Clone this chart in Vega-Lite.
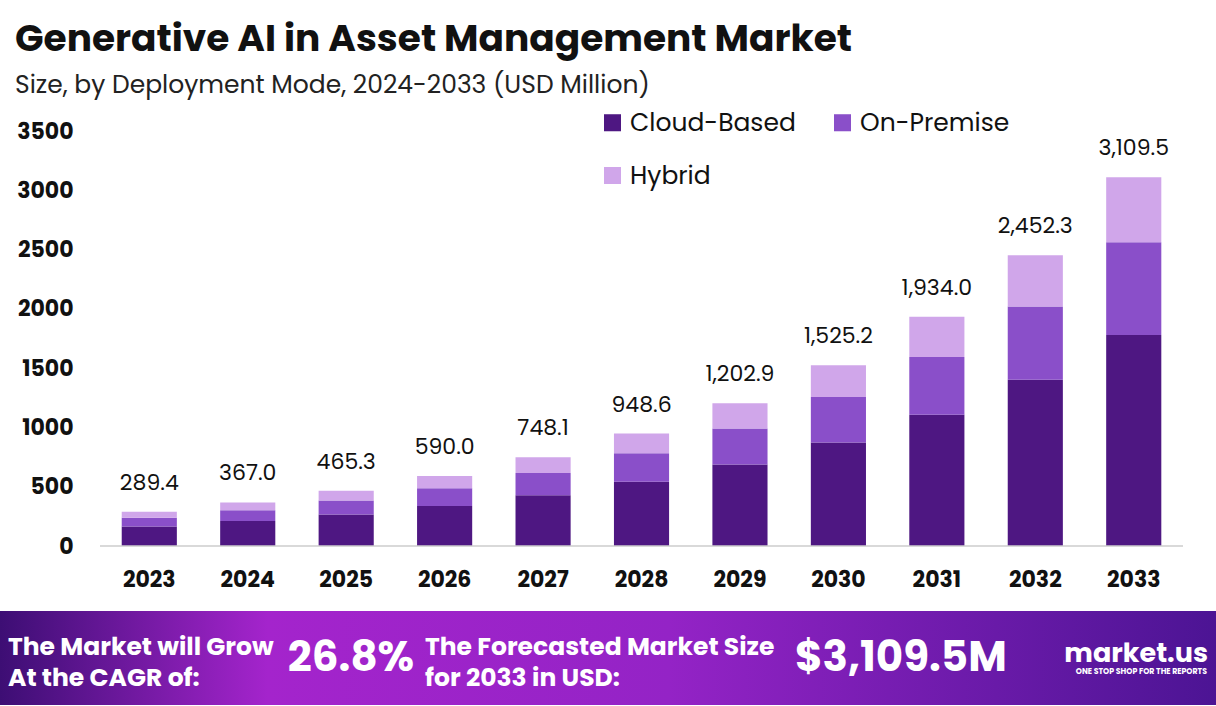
{
  "$schema": "https://vega.github.io/schema/vega-lite/v6.json",
  "background": "white",
  "padding": {"left": 0, "top": 20, "right": 0, "bottom": 0},
  "spacing": 21,
  "config": {
    "view": {"stroke": null},
    "font": "Poppins, Inter, sans-serif"
  },
  "datasets": {
    "seg": [
      {"year": "2023", "mode": "Cloud-Based", "value": 165.5},
      {"year": "2023", "mode": "On-Premise", "value": 72.9},
      {"year": "2023", "mode": "Hybrid", "value": 51.0},
      {"year": "2024", "mode": "Cloud-Based", "value": 209.9},
      {"year": "2024", "mode": "On-Premise", "value": 92.5},
      {"year": "2024", "mode": "Hybrid", "value": 64.6},
      {"year": "2025", "mode": "Cloud-Based", "value": 266.2},
      {"year": "2025", "mode": "On-Premise", "value": 117.3},
      {"year": "2025", "mode": "Hybrid", "value": 81.8},
      {"year": "2026", "mode": "Cloud-Based", "value": 337.5},
      {"year": "2026", "mode": "On-Premise", "value": 148.7},
      {"year": "2026", "mode": "Hybrid", "value": 103.8},
      {"year": "2027", "mode": "Cloud-Based", "value": 427.9},
      {"year": "2027", "mode": "On-Premise", "value": 188.5},
      {"year": "2027", "mode": "Hybrid", "value": 131.7},
      {"year": "2028", "mode": "Cloud-Based", "value": 542.6},
      {"year": "2028", "mode": "On-Premise", "value": 239.0},
      {"year": "2028", "mode": "Hybrid", "value": 167.0},
      {"year": "2029", "mode": "Cloud-Based", "value": 688.1},
      {"year": "2029", "mode": "On-Premise", "value": 303.1},
      {"year": "2029", "mode": "Hybrid", "value": 211.7},
      {"year": "2030", "mode": "Cloud-Based", "value": 872.4},
      {"year": "2030", "mode": "On-Premise", "value": 384.4},
      {"year": "2030", "mode": "Hybrid", "value": 268.4},
      {"year": "2031", "mode": "Cloud-Based", "value": 1106.2},
      {"year": "2031", "mode": "On-Premise", "value": 487.4},
      {"year": "2031", "mode": "Hybrid", "value": 340.4},
      {"year": "2032", "mode": "Cloud-Based", "value": 1402.7},
      {"year": "2032", "mode": "On-Premise", "value": 618.0},
      {"year": "2032", "mode": "Hybrid", "value": 431.6},
      {"year": "2033", "mode": "Cloud-Based", "value": 1778.6},
      {"year": "2033", "mode": "On-Premise", "value": 783.6},
      {"year": "2033", "mode": "Hybrid", "value": 547.3}
    ],
    "footer": [
      {"slot": "cagr", "role": "label", "text": "The Market will Grow\nAt the CAGR of:"},
      {"slot": "size", "role": "label", "text": "The Forecasted Market Size\nfor 2033 in USD:"},
      {"slot": "cagr", "role": "value", "text": "26.8%"},
      {"slot": "size", "role": "value", "text": "$3,109.5M"}
    ]
  },
  "vconcat": [
    {
      "width": 1216,
      "height": 415,
      "title": {
        "text": "Generative AI in Asset Management Market",
        "subtitle": "Size, by Deployment Mode, 2024-2033 (USD Million)",
        "anchor": "start",
        "frame": "group",
        "dx": 15,
        "fontSize": 37.5,
        "fontWeight": "bold",
        "color": "#111111",
        "subtitleFontSize": 25,
        "subtitleColor": "#222222",
        "subtitlePadding": 15,
        "offset": 22
      },
      "layer": [
        {
          "data": {"name": "seg"},
          "mark": {"type": "bar"},
          "encoding": {
            "x": {
              "field": "year",
              "type": "ordinal",
              "scale": {"paddingInner": 0.44, "paddingOuter": 0.896, "align": 0.69},
              "axis": {
                "title": null,
                "labelAngle": 0,
                "labelFontSize": 22,
                "labelFontWeight": "bold",
                "labelColor": "#111111",
                "ticks": false,
                "domain": false,
                "labelPadding": 23
              }
            },
            "y": {
              "field": "value",
              "type": "quantitative",
              "stack": "zero",
              "scale": {"domain": [0, 3500], "nice": false},
              "axis": {
                "title": null,
                "values": [0, 500, 1000, 1500, 2000, 2500, 3000, 3500],
                "format": "d",
                "labelFontSize": 22,
                "labelFontWeight": "bold",
                "labelColor": "#111111",
                "ticks": false,
                "domain": false,
                "grid": false,
                "labelPadding": 27,
                "offset": -100
              }
            },
            "order": {"field": "value", "sort": "descending"},
            "color": {
              "field": "mode",
              "type": "nominal",
              "sort": ["Cloud-Based", "On-Premise", "Hybrid"],
              "scale": {
                "domain": ["Cloud-Based", "On-Premise", "Hybrid"],
                "range": ["#4e1782", "#8a4fc9", "#d0a6ea"]
              },
              "legend": {
                "title": null,
                "orient": "none",
                "legendX": 600,
                "legendY": -21,
                "direction": "horizontal",
                "columns": 2,
                "columnPadding": 34,
                "rowPadding": 27,
                "symbolType": "square",
                "symbolSize": 290,
                "symbolStrokeWidth": 0,
                "labelOffset": 5,
                "labelFontSize": 25,
                "labelLimit": 400,
                "labelColor": "#111111"
              }
            }
          }
        },
        {
          "data": {"values": [{"from": "2023", "to": "2033"}]},
          "mark": {"type": "rule", "color": "#cccccc", "strokeWidth": 1.5},
          "encoding": {
            "x": {"field": "from", "type": "ordinal", "bandPosition": -0.394},
            "x2": {"field": "to", "bandPosition": 1.394},
            "y": {"datum": 0}
          }
        },
        {
          "data": {"name": "seg"},
          "transform": [
            {"aggregate": [{"op": "sum", "field": "value", "as": "total"}], "groupby": ["year"]}
          ],
          "mark": {"type": "text", "baseline": "alphabetic", "dy": -22, "fontSize": 22, "color": "#111111"},
          "encoding": {
            "x": {"field": "year", "type": "ordinal"},
            "y": {"field": "total", "type": "quantitative"},
            "text": {"field": "total", "type": "quantitative", "format": ",.1f"}
          }
        }
      ]
    },
    {
      "width": 1216,
      "height": 94,
      "resolve": {"scale": {"x": "independent"}},
      "layer": [
        {
          "data": {"values": [{}]},
          "mark": {
            "type": "rect",
            "fill": {
              "gradient": "linear",
              "x1": 0, "y1": 0, "x2": 1, "y2": 0,
              "stops": [
                {"offset": 0, "color": "#3d0e74"},
                {"offset": 0.22, "color": "#a424cc"},
                {"offset": 0.55, "color": "#9423c6"},
                {"offset": 1, "color": "#4c1494"}
              ]
            }
          },
          "encoding": {}
        },
        {
          "data": {"name": "footer"},
          "transform": [{"filter": "datum.role === 'label'"}],
          "mark": {"type": "text", "align": "left", "dy": -11, "baseline": "middle", "lineBreak": "\n", "lineHeight": 31, "fontSize": 25, "fontWeight": "bold", "color": "white"},
          "encoding": {
            "x": {"field": "slot", "type": "nominal", "scale": {"type": "point", "domain": ["cagr", "size"], "padding": 0.958, "align": 0.01}, "axis": null},
            "text": {"field": "text", "type": "nominal"}
          }
        },
        {
          "data": {"name": "footer"},
          "transform": [{"filter": "datum.role === 'value'"}],
          "mark": {"type": "text", "align": "left", "baseline": "middle", "fontSize": 42, "fontWeight": "bold", "color": "white"},
          "encoding": {
            "x": {"field": "slot", "type": "nominal", "scale": {"type": "point", "domain": ["cagr", "size"], "padding": 0.699, "align": 0.406}, "axis": null},
            "text": {"field": "text", "type": "nominal"}
          }
        },
        {
          "data": {"values": [{"brand": "market.us"}]},
          "mark": {"type": "text", "align": "right", "dx": -8, "dy": -4, "baseline": "middle", "fontSize": 27, "fontWeight": "bold", "color": "white"},
          "encoding": {
            "x": {"value": "width"},
            "text": {"field": "brand", "type": "nominal"}
          }
        },
        {
          "data": {"values": [{"tag": "ONE STOP SHOP FOR THE REPORTS"}]},
          "mark": {"type": "text", "align": "right", "dx": -9, "dy": 14, "baseline": "middle", "fontSize": 7.8, "fontWeight": "bold", "color": "white"},
          "encoding": {
            "x": {"value": "width"},
            "text": {"field": "tag", "type": "nominal"}
          }
        }
      ]
    }
  ]
}
